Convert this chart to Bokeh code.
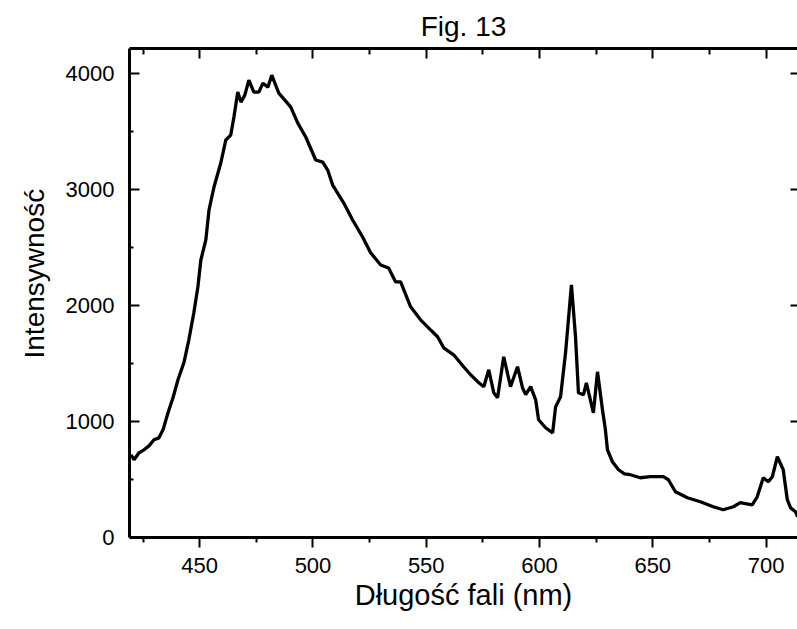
from bokeh.plotting import figure
from bokeh.models import Range1d, LinearAxis, FixedTicker, CustomJSTickFormatter, Title
from bokeh.embed import file_html
from bokeh.resources import INLINE

wavelength = [419.7, 421.0, 423.2, 425.4, 427.6, 429.8, 432.0, 433.8, 436.0, 438.2,
              440.4, 443.0, 445.2, 447.4, 449.2, 450.5, 452.7, 454.1, 456.3, 459.3,
              461.5, 463.7, 465.1, 466.8, 468.2, 469.9, 471.7, 473.9, 476.1, 477.9,
              480.1, 481.8, 484.9, 487.6, 490.2, 493.3, 496.8, 501.2, 504.3, 506.5,
              508.7, 513.6, 517.5, 521.9, 525.5, 529.9, 533.4, 536.5, 538.7, 543.1,
              547.5, 551.9, 555.0, 557.7, 562.1, 566.5, 569.6, 572.7, 575.4, 577.6,
              579.8, 581.5, 584.2, 587.2, 590.3, 592.5, 593.9, 596.1, 598.3, 599.6,
              602.7, 605.8, 607.1, 609.3, 611.5, 614.1, 615.9, 617.2, 619.4, 620.7,
              623.8, 625.6, 627.8, 629.1, 630.0, 632.2, 634.9, 637.5, 640.1, 644.5,
              648.9, 654.7, 656.9, 660.0, 665.3, 671.0, 676.7, 681.1, 685.6, 688.6,
              693.9, 696.1, 698.8, 701.0, 702.8, 705.0, 707.6, 709.4, 710.8, 713.0,
              713.9]
intensity = [713, 670, 730, 756, 790, 842, 859, 928, 1075, 1205,
             1360, 1506, 1704, 1937, 2161, 2392, 2565, 2823, 3021, 3228,
             3426, 3469, 3624, 3839, 3753, 3813, 3942, 3839, 3839, 3916,
             3882, 3985, 3830, 3770, 3710, 3572, 3452, 3254, 3236, 3167,
             3038, 2883, 2737, 2590, 2453, 2349, 2323, 2203, 2203, 1988,
             1876, 1790, 1730, 1635, 1575, 1472, 1403, 1343, 1300, 1446,
             1248, 1205, 1558, 1300, 1472, 1291, 1231, 1300, 1187, 1015,
             946, 902, 1126, 1213, 1592, 2177, 1729, 1247, 1230, 1333,
             1075, 1428, 1101, 928, 756, 653, 584, 549, 541, 515,
             524, 524, 498, 394, 343, 308, 265, 239, 265, 300,
             282, 351, 515, 481, 524, 696, 584, 326, 257, 222,
             179]

x_major = [450, 500, 550, 600, 650, 700]
x_minor = [425, 475, 525, 575, 625, 675]
y_major = [0, 1000, 2000, 3000, 4000]
y_minor = [500, 1500, 2500, 3500]

FONT = "Liberation Sans"

p = figure(width=797, height=629, output_backend="svg", toolbar_location=None,
           x_range=Range1d(419, 713.9), y_range=Range1d(0, 4215),
           x_axis_label="Długość fali (nm)",
           min_border_left=129, min_border_right=0, min_border_top=48,
           min_border_bottom=92)
p.outline_line_color = None
p.xgrid.visible = False
p.ygrid.visible = False
p.background_fill_color = "white"
p.border_fill_color = "white"

p.title.text = "Fig. 13"
p.title.align = "center"
p.title.text_font = FONT
p.title.text_font_size = "28px"
p.title.text_font_style = "normal"
p.title.text_color = "black"
p.title.standoff = 14
p.title.offset = 3

ylab = Title(text="Intensywność", align="left", text_font=FONT,
             text_font_size="28px", text_font_style="normal", text_color="black",
             standoff=26, offset=179)
p.add_layout(ylab, "left")

p.line(wavelength, intensity, line_color="black", line_width=3.3)

blank = CustomJSTickFormatter(code="return ''")

def style(ax, tin, tout, labels=True):
    ax.axis_line_width = 3
    ax.axis_line_color = "black"
    ax.major_tick_line_width = 2
    ax.minor_tick_line_width = 2
    ax.major_tick_line_color = "black"
    ax.minor_tick_line_color = "black"
    ax.major_tick_in = tin
    ax.major_tick_out = tout
    ax.minor_tick_in = tin // 2 if tin else 0
    ax.minor_tick_out = tout // 2 if tout else 0
    ax.major_label_text_font = FONT
    ax.major_label_text_font_size = "22px"
    ax.major_label_text_color = "black"
    if not labels:
        ax.formatter = blank
        ax.major_label_standoff = 0
    ax.axis_label_text_font = FONT
    ax.axis_label_text_font_size = "29px"
    ax.axis_label_text_font_style = "normal"
    ax.axis_label_text_color = "black"

xa = p.xaxis[0]
xa.ticker = FixedTicker(ticks=x_major, minor_ticks=x_minor)
style(xa, 0, 10)
xa.major_label_standoff = 10
xa.axis_label_standoff = 3

ya = p.yaxis[0]
ya.ticker = FixedTicker(ticks=y_major, minor_ticks=y_minor)
style(ya, 10, 0)
ya.minor_tick_in = 4
ya.major_label_standoff = 15

top = LinearAxis(ticker=FixedTicker(ticks=x_major, minor_ticks=x_minor))
style(top, 10, 0, labels=False)
top.minor_tick_in = 6
p.add_layout(top, "above")

right = LinearAxis(ticker=FixedTicker(ticks=y_major, minor_ticks=[]))
style(right, 7, 0, labels=False)
right.axis_line_color = None
p.add_layout(right, "right")

open("out.html", "w").write(file_html(p, INLINE))
